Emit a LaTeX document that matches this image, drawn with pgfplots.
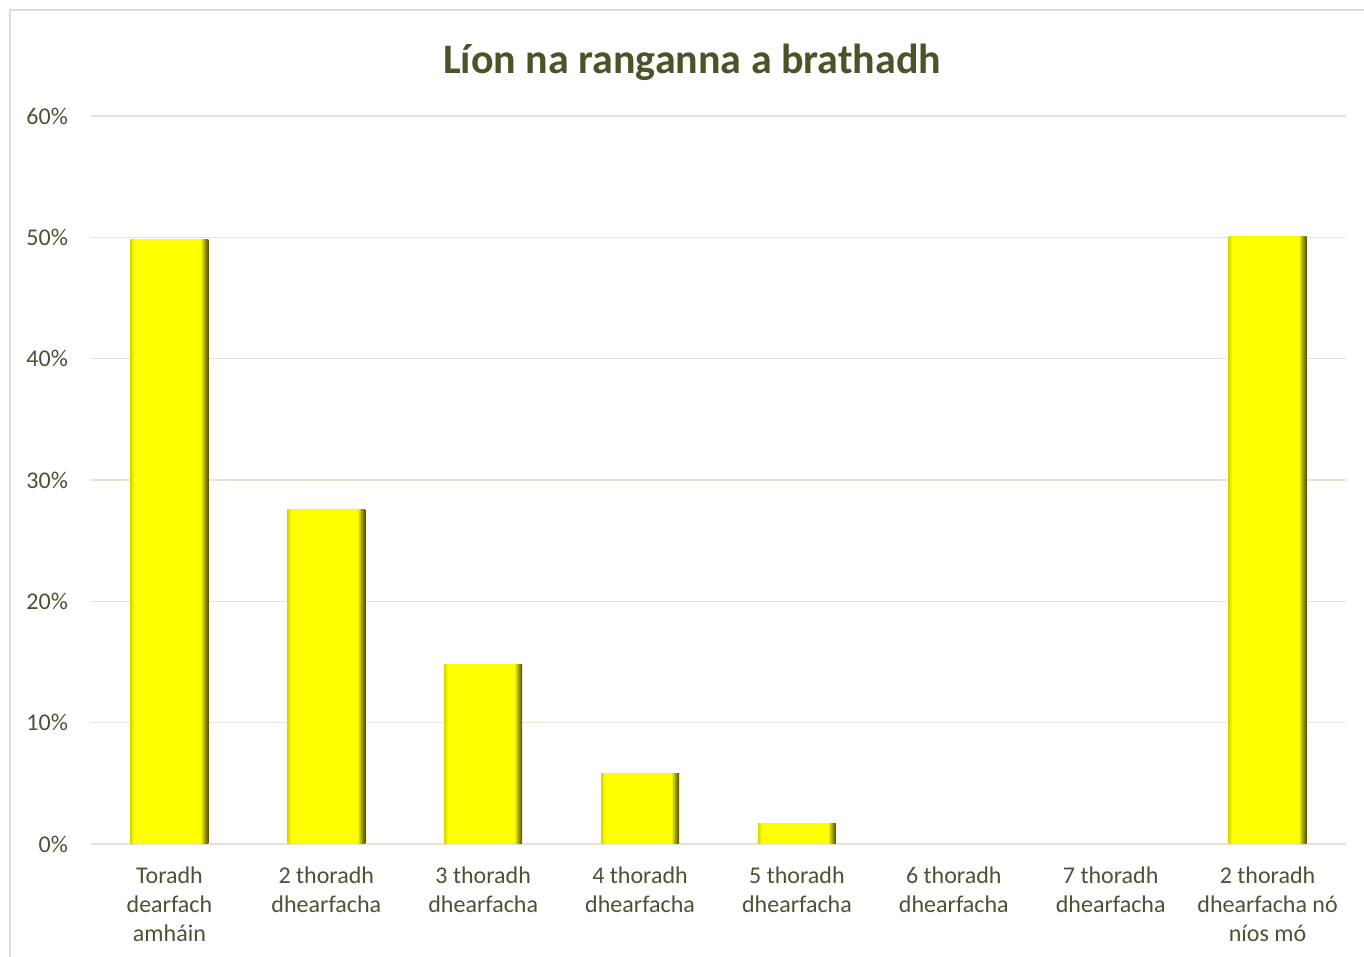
\documentclass[border=0pt]{standalone}
\usepackage{pgfplots}
\pgfplotsset{compat=1.18}
\usepackage{fontspec}
\setmainfont{Carlito}

\definecolor{titlecol}{RGB}{79,82,40}
\definecolor{labelcol}{RGB}{80,80,52}
\definecolor{gridcol}{RGB}{228,228,212}
\definecolor{framecol}{RGB}{222,222,210}
\definecolor{barY}{RGB}{255,255,0}
\definecolor{bevL}{RGB}{215,215,0}
\definecolor{bevR1}{RGB}{160,160,0}
\definecolor{bevR2}{RGB}{80,80,0}

\pgfdeclarehorizontalshading{bevel}{100bp}{color(0bp)=(bevL); color(25bp)=(bevL); color(27.5bp)=(barY); color(70bp)=(barY); color(72.5bp)=(bevR1); color(75bp)=(bevR2); color(100bp)=(bevR2)}

\pgfplotsset{bevelbar/.style={ybar, bar width=39pt, bar shift=0pt, draw=none, shade, shading=bevel}}

\begin{document}
\begin{tikzpicture}
\useasboundingbox (0,0) rectangle (682pt,478.5pt);
\draw[framecol, line width=0.8pt] (5pt,0) -- (5pt,473.5pt) -- (682pt,473.5pt);
\node[font=\fontsize{21}{25}\selectfont\bfseries, text=titlecol] at (346pt,447.5pt) {Líon na ranganna a brathadh};

\begin{axis}[
    at={(45.5pt,56.5pt)}, anchor=south west,
    scale only axis,
    width=627.5pt, height=364pt,
    xmin=-0.5, xmax=7.5,
    ymin=0, ymax=60,
    axis line style={draw=none},
    major tick length=0pt,
    ytick={0,10,...,60},
    yticklabels={0\%,10\%,20\%,30\%,40\%,50\%,60\%},
    xtick={0,1,...,7},
    xticklabels={Toradh\\dearfach\\amháin, 2 thoradh\\dhearfacha, 3 thoradh\\dhearfacha, 4 thoradh\\dhearfacha, 5 thoradh\\dhearfacha, 6 thoradh\\dhearfacha, 7 thoradh\\dhearfacha, 2 thoradh\\dhearfacha nó\\níos mó},
    xticklabel style={align=center, font=\fontsize{12}{14.5}\selectfont, text=labelcol, yshift=-8pt},
    yticklabel style={font=\fontsize{12}{14.5}\selectfont, text=labelcol, xshift=-8pt},
    ymajorgrids,
    grid style={gridcol, line width=0.8pt},
    clip=false,
]
\addplot[bevelbar] coordinates {(0,49.8)};
\addplot[bevelbar] coordinates {(1,27.6)};
\addplot[bevelbar] coordinates {(2,14.8)};
\addplot[bevelbar] coordinates {(3,5.85)};
\addplot[bevelbar] coordinates {(4,1.65)};
\addplot[bevelbar] coordinates {(7,50.1)};
\end{axis}
\end{tikzpicture}
\end{document}
